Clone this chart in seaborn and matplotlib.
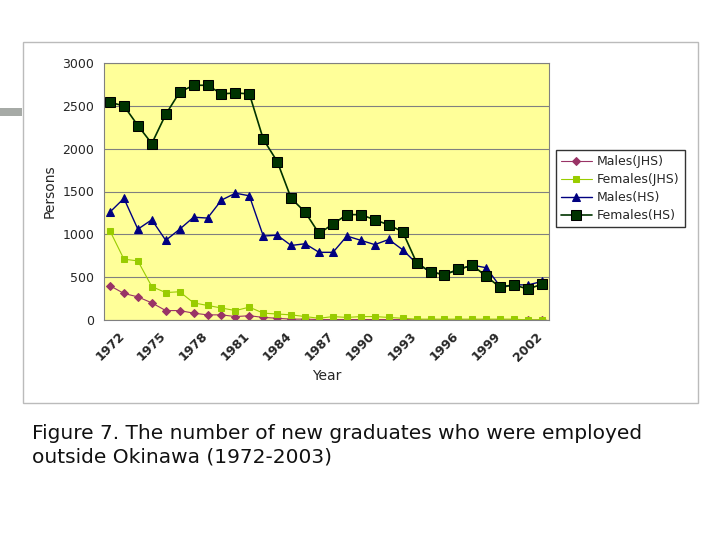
import matplotlib
matplotlib.use("Agg")
import matplotlib.pyplot as plt
import seaborn as sns
import pandas as pd
from matplotlib.patches import Rectangle

years = list(range(1972, 2004))
males_jhs = [400,310,270,200,110,110,80,60,60,40,50,30,20,10,10,5,5,5,5,5,5,5,0,0,0,0,0,0,0,0,0,0]
females_jhs = [1040,710,690,390,320,330,200,170,140,110,150,80,70,60,40,20,40,30,40,40,30,20,10,10,10,10,10,10,10,10,0,5]
males_hs = [1260,1420,1060,1170,930,1060,1200,1190,1400,1480,1450,980,990,870,890,790,790,980,930,880,940,820,660,560,530,590,640,610,390,410,410,450]
females_hs = [2540,2500,2270,2060,2400,2660,2740,2740,2640,2650,2640,2110,1850,1420,1260,1010,1120,1230,1230,1170,1110,1030,670,560,530,590,640,510,380,410,360,420]

series = {"Males(JHS)": males_jhs, "Females(JHS)": females_jhs,
          "Males(HS)": males_hs, "Females(HS)": females_hs}
df = pd.concat([pd.DataFrame({"Year": years, "Persons": v, "Series": k}) for k, v in series.items()])

sns.set_style("white")
fig = plt.figure(figsize=(7.2, 5.4), dpi=100)
fig.patches.append(Rectangle((23/720, 1-403/540), 675/720, 361/540, transform=fig.transFigure,
                             fill=False, edgecolor="#bbbbbb", lw=1))
fig.patches.append(Rectangle((0, 1-116/540), 22/720, 8/540, transform=fig.transFigure,
                             color="#a6aaa6", lw=0))
ax = fig.add_axes([104/720, 1-320/540, 445/720, 257/540])
ax.set_facecolor("#ffff99")
styles = {"Males(JHS)": ("#993366", "D", 4, 0.8),
          "Females(JHS)": ("#99cc00", "s", 5, 0.8),
          "Males(HS)": ("#000080", "^", 6, 1.0),
          "Females(HS)": ("#003300", "s", 7, 1.2)}
for name, (c, m, ms, lw) in styles.items():
    sub = df[df.Series == name]
    sns.lineplot(data=sub, x="Year", y="Persons", ax=ax, color=c, marker=m, markersize=ms,
                 markeredgecolor=c if name != "Females(HS)" else "black", lw=lw, label=name)
ax.set_xlim(1971.57, 2003.5)
ax.set_ylim(0, 3000)
ax.set_yticks(range(0, 3001, 500))
ax.set_xticks(years[::3])
ax.set_xticklabels([str(y) for y in years[::3]], rotation=45, fontsize=9, fontweight="bold")
ax.tick_params(axis="y", labelsize=9)
ax.yaxis.grid(True, color="#808080", lw=0.8)
for s in ax.spines.values():
    s.set_color("#808080")
ax.set_xlabel("Year", fontsize=10)
ax.set_ylabel("Persons", fontsize=10)
ax.legend(loc="upper left", bbox_to_anchor=(1.015, 0.66), frameon=True, fancybox=False,
          edgecolor="black", fontsize=9, handlelength=2.5, borderpad=0.4, labelspacing=0.4,
          handletextpad=0.4, borderaxespad=0)
fig.text(32/720, 1-445/540, "Figure 7. The number of new graduates who were employed\noutside Okinawa (1972-2003)",
         fontsize=14.5, va="center", linespacing=1.3, color="#111111")
fig.savefig("out.png", dpi=100)
